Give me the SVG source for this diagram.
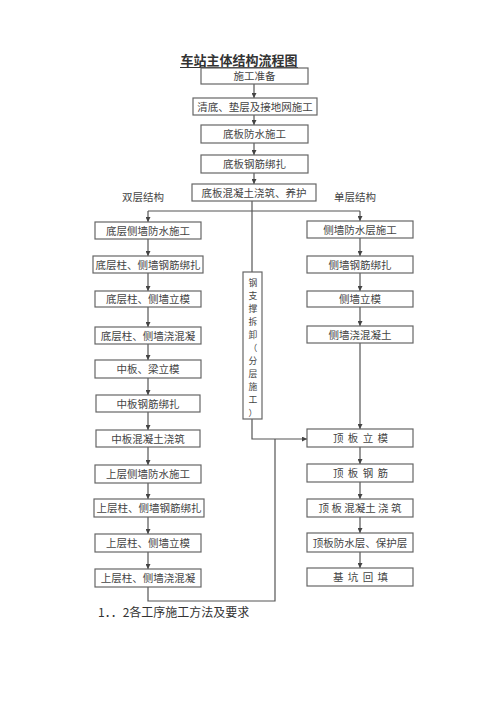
<svg xmlns="http://www.w3.org/2000/svg" width="500" height="708" viewBox="0 0 500 708">
<style>
.b{fill:#fff;stroke:#666;stroke-width:1.2}
.t{font-family:"Noto Sans CJK SC","Liberation Serif",serif;font-size:10.5px;fill:#444;text-anchor:middle}
.w{letter-spacing:1px}
.v{font-family:"Noto Sans CJK SC","Liberation Serif",serif;font-size:8.8px;fill:#444;text-anchor:middle}
.l{fill:none;stroke:#555;stroke-width:1.2}
.a{fill:none;stroke:#555;stroke-width:1.2;marker-end:url(#ah)}
</style>
<defs>
<marker id="ah" viewBox="0 0 8 8" refX="8" refY="4" markerWidth="5" markerHeight="5" orient="auto" markerUnits="userSpaceOnUse">
<path d="M0,0 L8,4 L0,8 z" fill="#444"/>
</marker>
</defs>
<rect width="500" height="708" fill="#fff"/>
<text x="239" y="65" style="font-family:'Noto Sans CJK SC',sans-serif;font-size:13px;font-weight:bold;fill:#333;text-anchor:middle">车站主体结构流程图</text>
<line x1="180" y1="67.5" x2="298" y2="67.5" stroke="#333" stroke-width="1.2"/>

<g id="connectors">
<line class="a" x1="254" y1="84" x2="254" y2="98"/>
<line class="a" x1="254" y1="115" x2="254" y2="125"/>
<line class="a" x1="254" y1="143" x2="254" y2="155"/>
<line class="a" x1="254" y1="173" x2="254" y2="184"/>
<line class="l" x1="252" y1="201" x2="252" y2="272"/>
<polyline class="l" points="148,211 360,211"/>
<line class="a" x1="148" y1="211" x2="148" y2="222"/>
<line class="a" x1="360" y1="211" x2="360" y2="221"/>
<line class="a" x1="148" y1="239" x2="148" y2="256"/>
<line class="a" x1="148" y1="273" x2="148" y2="291"/>
<line class="a" x1="148" y1="307" x2="148" y2="327"/>
<line class="a" x1="148" y1="344" x2="148" y2="360"/>
<line class="a" x1="148" y1="378" x2="148" y2="395"/>
<line class="a" x1="148" y1="412" x2="148" y2="430"/>
<line class="a" x1="148" y1="447" x2="148" y2="465"/>
<line class="a" x1="148" y1="483" x2="148" y2="499"/>
<line class="a" x1="148" y1="517" x2="148" y2="534"/>
<line class="a" x1="148" y1="552" x2="148" y2="569"/>
<polyline class="l" points="148,587 148,601 275,601 275,439"/>
<line class="a" x1="360" y1="238" x2="360" y2="256"/>
<line class="a" x1="360" y1="273" x2="360" y2="291"/>
<line class="a" x1="360" y1="307" x2="360" y2="326"/>
<line class="a" x1="360" y1="343" x2="360" y2="429"/>
<polyline class="a" points="252,419 252,439 307,439"/>
<line class="a" x1="360" y1="447" x2="360" y2="464"/>
<line class="a" x1="360" y1="482" x2="360" y2="499"/>
<line class="a" x1="360" y1="517" x2="360" y2="533"/>
<line class="a" x1="360" y1="552" x2="360" y2="568"/>
</g>

<g id="n1"><rect class="b" x="201" y="68" width="107" height="16"/><text class="t" x="254.5" y="80">施工准备</text></g>
<g id="n2"><rect class="b" x="193" y="98" width="124" height="17"/><text class="t" x="255" y="110.5">清底、垫层及接地网施工</text></g>
<g id="n3"><rect class="b" x="201" y="125" width="107" height="18"/><text class="t" x="254.5" y="138">底板防水施工</text></g>
<g id="n4"><rect class="b" x="201" y="155" width="107" height="18"/><text class="t" x="254.5" y="168">底板钢筋绑扎</text></g>
<g id="n5"><rect class="b" x="192" y="184" width="124" height="17"/><text class="t" x="254" y="196.5">底板混凝土浇筑、养护</text></g>

<text class="t" x="143" y="201">双层结构</text>
<text class="t" x="355" y="201">单层结构</text>

<g id="L1"><rect class="b" x="95" y="222" width="106" height="17"/><text class="t" x="148" y="234.5">底层侧墙防水施工</text></g>
<g id="L2"><rect class="b" x="93" y="256" width="110" height="17"/><text class="t" x="148" y="268.5">底层柱、侧墙钢筋绑扎</text></g>
<g id="L3"><rect class="b" x="95" y="291" width="106" height="16"/><text class="t" x="148" y="303">底层柱、侧墙立模</text></g>
<g id="L4"><rect class="b" x="95" y="327" width="106" height="17"/><text class="t" x="148" y="339.5">底层柱、侧墙浇混凝</text></g>
<g id="L5"><rect class="b" x="95" y="360" width="106" height="18"/><text class="t" x="148" y="373">中板、梁立模</text></g>
<g id="L6"><rect class="b" x="96" y="395" width="104" height="17"/><text class="t" x="148" y="407.5">中板钢筋绑扎</text></g>
<g id="L7"><rect class="b" x="96" y="430" width="104" height="17"/><text class="t" x="148" y="442.5">中板混凝土浇筑</text></g>
<g id="L8"><rect class="b" x="95" y="465" width="106" height="18"/><text class="t" x="148" y="478">上层侧墙防水施工</text></g>
<g id="L9"><rect class="b" x="94" y="499" width="110" height="18"/><text class="t" x="149" y="512">上层柱、侧墙钢筋绑扎</text></g>
<g id="L10"><rect class="b" x="95" y="534" width="106" height="18"/><text class="t" x="148" y="547">上层柱、侧墙立模</text></g>
<g id="L11"><rect class="b" x="95" y="569" width="106" height="18"/><text class="t" x="148" y="582">上层柱、侧墙浇混凝</text></g>

<g id="S"><rect class="b" x="243" y="272" width="19" height="147"/>
<text class="v" x="253" y="286">钢</text><text class="v" x="253" y="299">支</text><text class="v" x="253" y="312">撑</text><text class="v" x="253" y="325">拆</text><text class="v" x="253" y="338">卸</text><text class="v" x="253" y="351">（</text><text class="v" x="253" y="364">分</text><text class="v" x="253" y="377">层</text><text class="v" x="253" y="390">施</text><text class="v" x="253" y="403">工</text><text class="v" x="253" y="416">）</text></g>

<g id="R1"><rect class="b" x="307" y="221" width="106" height="17"/><text class="t" x="360" y="233.5">侧墙防水层施工</text></g>
<g id="R2"><rect class="b" x="307" y="256" width="106" height="17"/><text class="t" x="360" y="268.5">侧墙钢筋绑扎</text></g>
<g id="R3"><rect class="b" x="307" y="291" width="106" height="16"/><text class="t" x="360" y="303">侧墙立模</text></g>
<g id="R4"><rect class="b" x="307" y="326" width="106" height="17"/><text class="t" x="360" y="338.5">侧墙浇混凝土</text></g>
<g id="R5"><rect class="b" x="307" y="429" width="106" height="18"/><text class="t w" x="361" y="442" xml:space="preserve">顶 板 立 模</text></g>
<g id="R6"><rect class="b" x="307" y="464" width="106" height="18"/><text class="t w" x="361" y="477" xml:space="preserve">顶 板 钢 筋</text></g>
<g id="R7"><rect class="b" x="307" y="499" width="106" height="18"/><text class="t" x="360" y="512" xml:space="preserve">顶 板 混凝土 浇 筑</text></g>
<g id="R8"><rect class="b" x="307" y="533" width="106" height="19"/><text class="t" x="360" y="546.5">顶板防水层、保护层</text></g>
<g id="R9"><rect class="b" x="307" y="568" width="106" height="18"/><text class="t w" x="361" y="581" xml:space="preserve">基 坑 回 填</text></g>

<text x="98" y="617" style="font-family:'Noto Sans CJK SC',sans-serif;font-size:12px;fill:#333">1．．2各工序施工方法及要求</text>
</svg>
